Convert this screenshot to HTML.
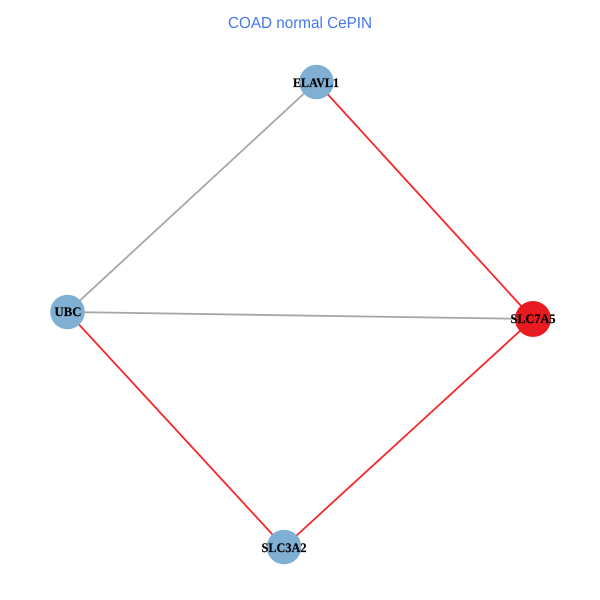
<!DOCTYPE html>
<html>
<head>
<meta charset="utf-8">
<style>
html,body{margin:0;padding:0;background:#fff;width:600px;height:600px;overflow:hidden}
svg{display:block}
text{text-rendering:geometricPrecision}
</style>
</head>
<body>
<svg width="600" height="600" viewBox="0 0 600 600" xmlns="http://www.w3.org/2000/svg">
<rect width="600" height="600" fill="#fff"/>
<text x="300" y="28" text-anchor="middle" font-family="'Liberation Sans',sans-serif" font-size="16" fill="#4477f0" textLength="144" lengthAdjust="spacingAndGlyphs">COAD normal CePIN</text>
<g stroke-width="1.8" fill="none">
<line x1="316.5" y1="82" x2="67.5" y2="312" stroke="#a6a6a6"/>
<line x1="67.5" y1="312" x2="533" y2="319" stroke="#a6a6a6"/>
<line x1="316.5" y1="82" x2="533" y2="319" stroke="#f5272b"/>
<line x1="67.5" y1="312" x2="284" y2="547" stroke="#f5272b"/>
<line x1="533" y1="319" x2="284" y2="547" stroke="#f5272b"/>
</g>
<circle cx="316.5" cy="82" r="17.3" fill="#7fb0d3"/>
<circle cx="67.5" cy="312" r="17.3" fill="#7fb0d3"/>
<circle cx="533" cy="319" r="18" fill="#e81c20"/>
<circle cx="284" cy="547" r="17.3" fill="#7fb0d3"/>
<g font-family="'Liberation Serif',serif" font-weight="bold" font-size="13" fill="#000" stroke="#000" stroke-width="0.2" text-anchor="middle">
<text x="316" y="87" textLength="46" lengthAdjust="spacingAndGlyphs">ELAVL1</text>
<text x="68" y="316" textLength="27" lengthAdjust="spacingAndGlyphs">UBC</text>
<text x="533" y="323" textLength="45" lengthAdjust="spacingAndGlyphs">SLC7A5</text>
<text x="284" y="552" textLength="45" lengthAdjust="spacingAndGlyphs">SLC3A2</text>
</g>
</svg>
</body>
</html>
